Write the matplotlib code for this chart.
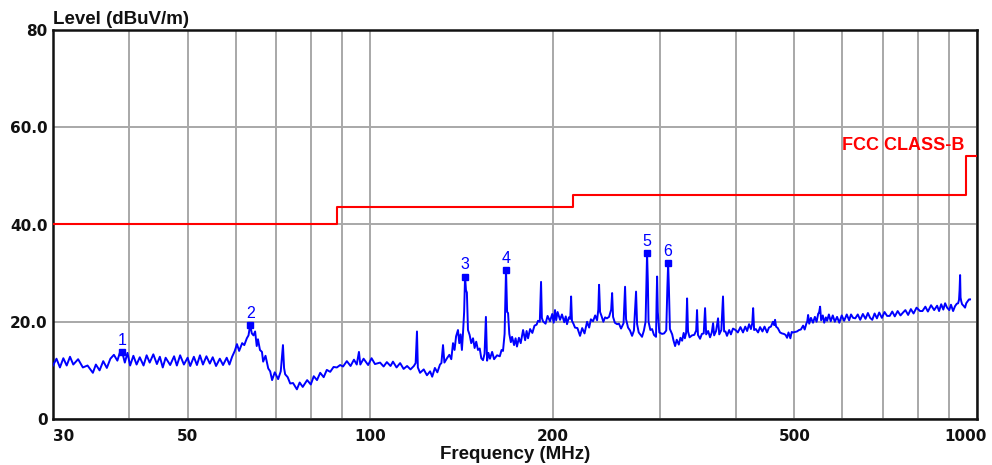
import matplotlib
matplotlib.use("Agg")
import matplotlib.pyplot as plt
import matplotlib.transforms as mtransforms

# ---- data ----
trace_freq = [
    30.0, 30.4, 30.8, 31.2, 31.6, 32.0, 32.4, 33.0, 33.6, 34.2, 34.9, 35.3, 35.8, 36.3, 36.8, 37.3,
    37.8, 38.3, 38.7, 39.0, 39.4, 39.8, 40.2, 40.7, 41.2, 41.7, 42.3, 42.8, 43.3, 43.9, 44.5, 45.0,
    45.5, 46.0, 46.8, 47.5, 48.0, 48.6, 49.3, 50.0, 50.5, 51.2, 51.8, 52.4, 53.0, 53.7, 54.4, 55.0,
    55.7, 56.5, 57.2, 58.0, 58.6, 59.2, 59.8, 60.3, 60.8, 61.5, 62.0, 62.6, 63.0, 63.4, 63.8, 64.2,
    64.6, 65.0, 65.3, 65.8, 66.3, 66.6, 67.2, 67.9, 68.4, 68.9, 69.6, 70.5, 71.2, 71.8, 72.1, 72.4,
    73.1, 73.8, 74.6, 75.7, 76.5, 77.4, 78.7, 79.8, 80.7, 81.7, 82.7, 83.8, 84.8, 85.9, 87.0, 88.1,
    89.2, 90.2, 91.5, 92.8, 94.0, 95.0, 95.8, 96.3, 97.5, 99.2, 100.5, 101.8, 103.8, 105.2, 106.5, 108.0,
    109.0, 110.5, 112.0, 113.5, 115.0, 116.5, 118.0, 118.8, 119.4, 119.8, 120.8, 122.5, 124.0, 125.5, 126.5, 127.8,
    129.0, 130.3, 131.0, 131.8, 132.5, 133.8, 135.0, 136.0, 136.9, 137.7, 138.5, 139.5, 140.2, 140.9, 141.6, 142.2,
    142.8, 143.3, 143.8, 144.3, 144.9, 145.8, 146.7, 147.7, 148.6, 149.5, 150.5, 151.5, 152.4, 153.4, 154.3, 155.1,
    155.8, 156.6, 157.5, 158.8, 160.0, 161.8, 163.5, 164.6, 165.5, 166.5, 167.4, 168.1, 168.7, 169.5, 170.5, 171.3,
    172.6, 173.6, 174.5, 175.8, 177.0, 178.6, 180.0, 181.0, 182.0, 183.4, 185.0, 186.5, 188.0, 189.0, 190.3, 191.2,
    191.8, 192.6, 194.5, 196.0, 197.8, 199.5, 200.6, 201.6, 202.5, 203.6, 205.5, 207.0, 208.8, 210.0, 211.0, 212.5,
    213.6, 214.3, 215.0, 216.2, 217.5, 219.5, 221.7, 223.5, 225.5, 227.7, 229.5, 231.0, 232.9, 234.8, 236.5, 237.6,
    238.3, 239.2, 240.5, 242.2, 243.8, 245.5, 247.5, 249.5, 250.4, 251.3, 253.0, 255.2, 257.0, 259.0, 261.5, 263.0,
    264.0, 266.0, 268.0, 270.1, 272.0, 273.3, 274.2, 275.3, 277.0, 280.5, 282.5, 284.3, 285.2, 285.9, 286.8, 287.5,
    289.5, 291.4, 293.5, 295.8, 296.4, 297.0, 297.8, 299.5, 302.6, 305.0, 307.5, 308.8, 309.7, 310.6, 311.8, 314.5,
    316.0, 318.0, 320.0, 322.5, 324.5, 326.6, 328.5, 330.0, 331.6, 332.8, 334.0, 336.0, 339.1, 342.0, 344.5, 345.6,
    346.8, 349.6, 352.0, 354.5, 356.3, 357.8, 360.5, 363.1, 365.5, 367.3, 368.8, 371.5, 374.3, 376.0, 379.0, 381.4,
    383.0, 385.0, 387.2, 390.5, 393.0, 396.1, 400.0, 403.5, 407.5, 411.5, 415.0, 418.0, 421.1, 424.0, 426.2, 427.6,
    429.2, 432.0, 435.7, 439.0, 443.0, 446.5, 450.8, 454.0, 457.5, 461.0, 463.2, 464.7, 466.5, 469.5, 473.6, 477.0,
    480.5, 483.6, 486.4, 489.0, 492.5, 495.0, 497.6, 501.0, 505.0, 509.0, 512.5, 516.9, 520.0, 523.5, 525.0, 526.8,
    529.0, 532.5, 536.7, 540.5, 544.0, 547.5, 549.0, 551.3, 553.5, 557.0, 560.0, 563.5, 566.2, 570.0, 574.0, 578.5,
    583.0, 588.0, 593.0, 598.5, 604.0, 610.0, 615.5, 620.0, 624.9, 630.0, 636.0, 642.0, 648.5, 655.0, 661.0, 666.6,
    672.0, 678.0, 684.0, 690.0, 697.0, 704.0, 711.0, 718.0, 725.0, 732.0, 740.0, 748.0, 755.3, 762.0, 770.0, 778.0,
    786.0, 795.0, 805.5, 813.0, 822.0, 830.0, 840.0, 850.0, 859.5, 866.0, 873.0, 880.0, 886.0, 892.7, 900.0, 906.0,
    913.3, 920.0, 926.0, 930.8, 934.0, 936.0, 937.9, 939.5, 942.0, 945.0, 950.0, 955.7, 960.0, 965.0, 970.0, 974.0,
]
trace_level = [
    11.0, 12.4, 10.6, 12.5, 11.0, 12.8, 11.2, 12.3, 10.6, 11.0, 9.5, 11.2, 10.0, 11.9, 10.5, 12.4,
    13.2, 12.0, 13.8, 13.8, 11.6, 13.6, 11.0, 13.0, 11.2, 12.7, 11.0, 13.1, 11.6, 13.3, 11.3, 12.8,
    10.6, 12.6, 11.1, 12.9, 11.0, 13.1, 11.2, 12.6, 10.9, 12.8, 11.1, 13.1, 11.2, 12.9, 11.4, 12.7,
    10.9, 12.4, 11.1, 12.6, 11.2, 12.8, 14.0, 15.4, 14.0, 15.6, 15.2, 16.6, 17.2, 19.3, 17.6, 17.2,
    18.0, 15.0, 16.4, 14.2, 13.8, 11.8, 13.0, 10.4, 9.8, 8.0, 9.6, 8.2, 9.8, 15.2, 10.5, 9.2,
    8.6, 7.3, 7.4, 6.1, 7.5, 6.6, 8.0, 7.1, 8.8, 8.0, 9.5, 8.6, 10.1, 9.7, 10.7, 10.6,
    11.1, 10.8, 11.9, 10.9, 12.2, 11.2, 13.8, 11.2, 12.4, 11.1, 12.5, 11.3, 11.6, 10.8, 11.7, 10.9,
    11.8, 10.6, 11.5, 10.3, 10.9, 10.2, 10.9, 11.5, 18.0, 10.6, 9.5, 10.2, 9.0, 9.8, 8.7, 10.5,
    9.6, 11.2, 11.5, 15.2, 11.6, 12.5, 13.2, 12.3, 15.6, 14.2, 17.0, 18.3, 15.6, 17.4, 14.2, 17.8,
    22.0, 29.3, 26.5, 26.0, 18.3, 17.3, 15.6, 16.6, 14.6, 15.9, 14.2, 14.5, 12.5, 12.1, 13.4, 21.0,
    12.0, 13.6, 12.4, 13.8, 12.3, 13.1, 12.9, 14.2, 14.0, 17.5, 30.7, 22.0, 21.8, 17.5, 15.8, 16.9,
    15.2, 16.6, 14.9, 16.7, 15.6, 18.3, 16.2, 18.1, 16.6, 18.5, 17.7, 19.2, 19.4, 20.2, 20.0, 28.2,
    20.8, 20.1, 19.6, 21.2, 20.1, 21.6, 19.8, 22.4, 20.3, 22.0, 20.4, 21.5, 19.9, 21.1, 19.5, 20.9,
    20.6, 25.2, 20.2, 19.6, 18.8, 18.7, 17.1, 18.7, 17.6, 20.0, 18.8, 20.5, 20.1, 21.3, 20.3, 22.5,
    27.6, 22.0, 21.2, 20.0, 20.9, 20.7, 21.0, 22.5, 25.9, 21.0, 19.8, 19.5, 19.6, 18.6, 19.7, 27.2,
    20.5, 18.8, 18.2, 17.1, 18.2, 23.0, 26.2, 19.5, 17.8, 16.9, 18.2, 20.0, 28.0, 34.1, 28.0, 20.0,
    18.3, 18.5, 17.3, 16.9, 24.0, 29.3, 22.0, 17.8, 17.5, 17.6, 18.2, 27.0, 32.0, 27.0, 18.5, 17.4,
    16.2, 15.0, 16.3, 15.3, 16.7, 16.1, 17.7, 16.6, 17.7, 24.8, 18.0, 16.8, 17.2, 17.3, 18.2, 22.4,
    17.3, 16.5, 17.5, 17.6, 22.8, 17.4, 18.1, 16.8, 17.8, 19.7, 17.2, 18.1, 20.7, 17.4, 18.3, 25.2,
    18.0, 18.0, 17.1, 18.3, 17.4, 18.6, 18.3, 17.8, 18.9, 17.8, 19.0, 18.1, 19.5, 18.5, 19.7, 22.8,
    18.3, 18.5, 17.8, 18.9, 18.0, 19.0, 17.8, 18.8, 19.0, 20.0, 19.3, 20.4, 19.0, 18.7, 17.8, 17.6,
    17.5, 17.3, 16.7, 17.8, 16.6, 17.9, 17.8, 17.9, 18.0, 18.3, 18.4, 19.2, 18.4, 19.7, 20.0, 21.4,
    19.6, 20.8, 19.8, 21.0, 20.0, 21.7, 21.8, 23.1, 20.3, 21.3, 19.8, 20.9, 20.2, 21.5, 20.1, 21.3,
    20.0, 21.0, 19.8, 21.3, 20.2, 21.5, 20.3, 21.5, 20.8, 20.7, 21.5, 20.4, 21.6, 20.6, 21.8, 20.8,
    20.4, 21.7, 20.7, 21.9, 20.8, 22.0, 21.2, 21.2, 22.1, 21.1, 22.2, 21.3, 21.9, 22.4, 21.4, 22.6,
    21.7, 22.9, 22.2, 22.2, 23.1, 22.1, 23.4, 22.4, 23.3, 22.2, 23.6, 22.5, 23.8, 22.9, 22.4, 23.5,
    22.2, 23.2, 23.7, 23.8, 24.5, 26.5, 29.6, 25.0, 24.2, 23.6, 23.3, 22.9, 23.8, 24.2, 24.6, 24.6,
]

limit_freq = [30, 88, 216, 960, 1000]
limit_level = [40, 43.5, 46, 54, 54]
limit_name = "FCC CLASS-B"

peak_freq = [39.0, 63.4, 143.3, 167.4, 285.9, 309.7]
peak_level = [13.8, 19.3, 29.3, 30.7, 34.1, 32.0]
peak_labels = ["1", "2", "3", "4", "5", "6"]

x_major = [30, 50, 100, 200, 500, 1000]
x_major_labels = ["30", "50", "100", "200", "500", "1000"]
x_minor = [40, 60, 70, 80, 90, 300, 400, 600, 700, 800, 900]
y_ticks = [0, 20, 40, 60, 80]
y_tick_labels = ["0", "20.0", "40.0", "60.0", "80"]

# ---- figure ----
fig = plt.figure(figsize=(9.92, 4.65), dpi=100)
ax = fig.add_axes([53 / 992, 1 - 419 / 465, (977 - 53) / 992, (419 - 30) / 465])

ax.set_xscale("log")
ax.set_xlim(30, 1000)
ax.set_ylim(0, 80)

ax.set_xticks(x_major)
ax.set_xticklabels(x_major_labels)
ax.set_xticks(x_minor, minor=True)
ax.set_yticks(y_ticks)
ax.set_yticklabels(y_tick_labels)

grid_col = "#a8a8a8"
ax.grid(True, which="both", axis="x", color=grid_col, lw=1.4)
ax.grid(True, which="major", axis="y", color=grid_col, lw=1.4)
ax.set_axisbelow(True)

ax.tick_params(axis="both", which="both", length=0)
ax.tick_params(axis="x", pad=7)
ax.tick_params(axis="y", pad=4)
for lab in ax.get_xticklabels() + ax.get_yticklabels():
    lab.set_fontfamily("DejaVu Sans")
    lab.set_fontweight("bold")
    lab.set_fontsize(11)
    lab.set_color("#111111")

xlabs = ax.get_xticklabels()
xlabs[0].set_horizontalalignment("left")
xlabs[-1].set_transform(xlabs[-1].get_transform() +
                        mtransforms.ScaledTranslation(-11 / 100, 0, fig.dpi_scale_trans))

for s in ax.spines.values():
    s.set_color("#111111")
    s.set_linewidth(1.8)

# limit line
ax.step(limit_freq, limit_level, where="post", color="#ff0000", lw=1.5, zorder=3)
ax.text(952, 55.4, limit_name, color="#ff0000", fontsize=13, fontweight="bold",
        family="Liberation Sans", ha="right", va="baseline", zorder=4)

# measurement trace
ax.plot(trace_freq, trace_level, color="#0000ff", lw=1.4, zorder=4)

# peak markers
ax.plot(peak_freq, peak_level, ls="none", marker="s", ms=4, color="#0000ff", zorder=5)
for f, l, t in zip(peak_freq, peak_level, peak_labels):
    ax.annotate(t, (f, l), xytext=(0, 3), textcoords="offset points", ha="center",
                va="bottom", color="#0000ff", fontsize=11.5, family="Liberation Sans", zorder=5)

fig.text(53 / 992, 1 - 24 / 465, "Level (dBuV/m)", fontsize=13.5, fontweight="bold",
         family="Liberation Sans", ha="left", va="baseline", color="#111111")
fig.text(515 / 992, 1 - 459 / 465, "Frequency (MHz)", fontsize=13.5, fontweight="bold",
         family="Liberation Sans", ha="center", va="baseline", color="#111111")

fig.savefig("out.png", dpi=100, facecolor="white")
